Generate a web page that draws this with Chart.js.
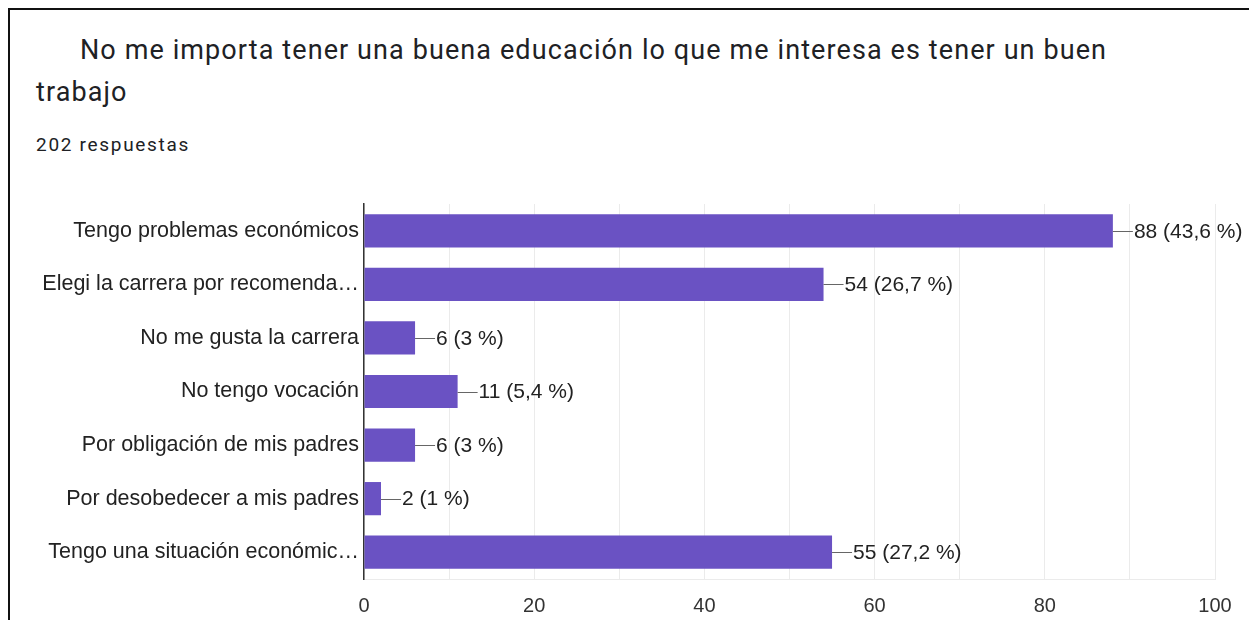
<!DOCTYPE html>
<html>
<head>
<meta charset="utf-8">
<script src="https://cdn.jsdelivr.net/npm/chart.js@4"></script>
<style>
  body { margin: 0; background: #fff; }
  #wrap { position: relative; width: 1249px; height: 620px; overflow: hidden; }
  #frame { position: absolute; left: 8px; top: 8px; width: 1300px; height: 700px;
           border-left: 2px solid #111; border-top: 2px solid #111; }
  .title { position: absolute; font-family: Roboto, sans-serif; font-size: 27px; letter-spacing: 1.1px; color: #202124; white-space: nowrap; }
  #sub { position: absolute; left: 36px; top: 133px; font-family: Roboto, sans-serif; font-size: 19px; letter-spacing: 1.7px; color: #202124; }
  canvas { position: absolute; left: 0; top: 0; }
</style>
</head>
<body>
<div id="wrap">
  <div id="frame"></div>
  <div class="title" style="left:80px; top:34px;">No me importa tener una buena educación lo que me interesa es tener un buen</div>
  <div class="title" style="left:36px; top:76px;">trabajo</div>
  <div id="sub">202 respuestas</div>
  <canvas id="chart" width="1249" height="620"></canvas>
</div>
<script>
// datos del gráfico
const categories = [
    "Tengo problemas económicos",
    "Elegi la carrera por recomenda…",
    "No me gusta la carrera",
    "No tengo vocación",
    "Por obligación de mis padres",
    "Por desobedecer a mis padres",
    "Tengo una situación económic…"
];
const counts = [88, 54, 6, 11, 6, 2, 55];
const percents = ["43,6", "26,7", "3", "5,4", "3", "1", "27,2"];
const xTicks = [0, 20, 40, 60, 80, 100];

const fontFamily = "'Liberation Sans', Arial, sans-serif";

// etiquetas con línea guía al final de cada barra
const valueLabels = {
    id: "valueLabels",
    afterDatasetsDraw(chart) {
        const ctx = chart.ctx;
        const meta = chart.getDatasetMeta(0);
        ctx.save();
        ctx.font = "21px " + fontFamily;
        ctx.textBaseline = "middle";
        ctx.fillStyle = "#222";
        ctx.strokeStyle = "#666";
        ctx.lineWidth = 1;
        meta.data.forEach((bar, i) => {
            const y = Math.round(bar.y) + 0.5;
            ctx.beginPath();
            ctx.moveTo(bar.x, y);
            ctx.lineTo(bar.x + 20, y);
            ctx.stroke();
            ctx.fillText(`${counts[i]} (${percents[i]} %)`, bar.x + 21, bar.y + 1);
        });
        ctx.restore();
    }
};

new Chart(document.getElementById("chart"), {
    type: "bar",
    data: {
        labels: categories,
        datasets: [{
            data: counts,
            backgroundColor: "#6a52c3",
            borderWidth: 0,
            categoryPercentage: 0.62,
            barPercentage: 1
        }]
    },
    options: {
        indexAxis: "y",
        responsive: false,
        animation: false,
        layout: { padding: { top: 204, right: 34, left: 0, bottom: 0 } },
        plugins: { legend: { display: false }, tooltip: { enabled: false } },
        scales: {
            x: {
                min: 0, max: 100,
                ticks: {
                    stepSize: 10,
                    autoSkip: false,
                    maxRotation: 0,
                    padding: 15,
                    color: "#333",
                    font: { family: fontFamily, size: 20 },
                    callback: v => xTicks.includes(v) ? String(v) : ""
                },
                grid: { color: "#ebebeb", drawTicks: false },
                border: { color: "#ebebeb" },
                afterFit: s => { s.height = 41; }
            },
            y: {
                ticks: {
                    padding: 5,
                    color: "#222",
                    font: { family: fontFamily, size: 21.5 }
                },
                grid: { display: false, drawTicks: false },
                border: { color: "#333", width: 1.5 },
                afterFit: s => { s.width = 364; }
            }
        }
    },
    plugins: [valueLabels]
});
</script>
</body>
</html>
